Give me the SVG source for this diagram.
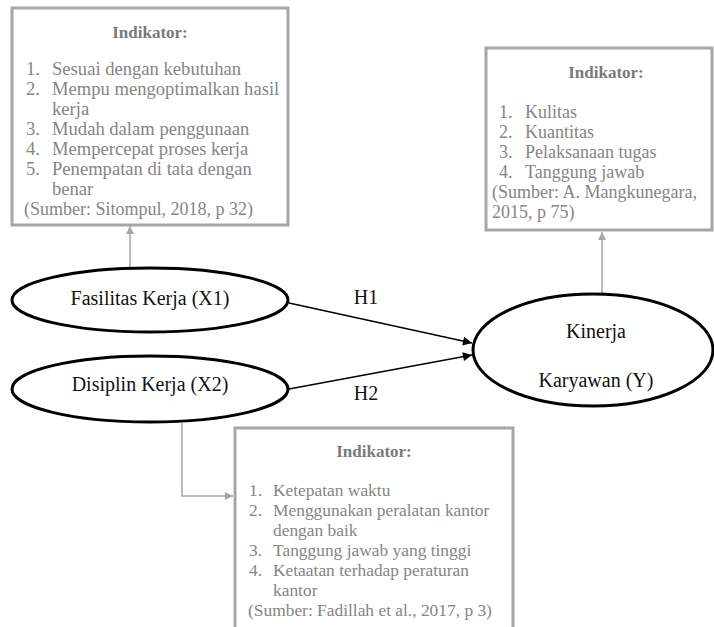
<svg xmlns="http://www.w3.org/2000/svg" width="714" height="627" viewBox="0 0 714 627">
<defs>
<style>
.box{fill:#fff;stroke:#a6a6a6;stroke-width:3}
.bt{font-family:"Liberation Serif","Times New Roman",serif;font-size:18px;fill:#858585}
.b1{font-size:18.6px}
.b3{font-size:17.4px}
.hd{font-family:"Liberation Serif","Times New Roman",serif;font-size:17px;font-weight:bold;fill:#7a7a7a;text-anchor:middle}
.el{fill:#fff;stroke:#000;stroke-width:3}
.lt{font-family:"Liberation Serif","Times New Roman",serif;font-size:20px;fill:#111;text-anchor:middle}
.gl{fill:none;stroke:#a6a6a6;stroke-width:1.5}
.bl{fill:none;stroke:#000;stroke-width:1.3}
</style>
<marker id="ga" viewBox="0 0 10 10" refX="10" refY="5" markerWidth="8" markerHeight="8" markerUnits="userSpaceOnUse" orient="auto"><path d="M0,0 L10,5 L0,10 z" fill="#a6a6a6"/></marker>
<marker id="ba" viewBox="0 0 10 10" refX="10" refY="5" markerWidth="10" markerHeight="9" markerUnits="userSpaceOnUse" orient="auto"><path d="M0,0 L10,5 L0,10 z" fill="#000"/></marker>
</defs>
<rect width="714" height="627" fill="#fff"/>

<g id="connectors">
<line class="gl" x1="130" y1="269" x2="130" y2="226" marker-end="url(#ga)"/>
<line class="gl" x1="602" y1="294" x2="602" y2="232" marker-end="url(#ga)"/>
<polyline class="gl" points="182,423 182,496 233,496" marker-end="url(#ga)"/>
<line class="bl" x1="289" y1="303" x2="472" y2="343" marker-end="url(#ba)"/>
<line class="bl" x1="289" y1="389" x2="472" y2="355" marker-end="url(#ba)"/>
<text class="lt" x="366" y="304">H1</text>
<text class="lt" x="366" y="400">H2</text>
</g>

<g id="box1">
<rect class="box" x="12" y="8" width="276" height="217"/>
<text class="hd" x="150" y="38">Indikator:</text>
<text class="bt b1" x="26" y="75">1.</text><text class="bt b1" x="52" y="75">Sesuai dengan kebutuhan</text>
<text class="bt b1" x="26" y="95">2.</text><text class="bt b1" x="52" y="95">Mempu mengoptimalkan hasil</text>
<text class="bt b1" x="52" y="115">kerja</text>
<text class="bt b1" x="26" y="135">3.</text><text class="bt b1" x="52" y="135">Mudah dalam penggunaan</text>
<text class="bt b1" x="26" y="155">4.</text><text class="bt b1" x="52" y="155">Mempercepat proses kerja</text>
<text class="bt b1" x="26" y="175">5.</text><text class="bt b1" x="52" y="175">Penempatan di tata dengan</text>
<text class="bt b1" x="52" y="195">benar</text>
<text class="bt" x="24" y="215">(Sumber: Sitompul, 2018, p 32)</text>
</g>

<g id="box2">
<rect class="box" x="486" y="48" width="226" height="182"/>
<text class="hd" x="606" y="78">Indikator:</text>
<text class="bt" x="499" y="118">1.</text><text class="bt" x="525" y="118">Kulitas</text>
<text class="bt" x="499" y="138">2.</text><text class="bt" x="525" y="138">Kuantitas</text>
<text class="bt" x="499" y="158">3.</text><text class="bt" x="525" y="158">Pelaksanaan tugas</text>
<text class="bt" x="499" y="178">4.</text><text class="bt" x="525" y="178">Tanggung jawab</text>
<text class="bt" x="492" y="198">(Sumber: A. Mangkunegara,</text>
<text class="bt" x="492" y="218">2015, p 75)</text>
</g>

<g id="box3">
<rect class="box" x="235" y="428" width="278" height="215"/>
<text class="hd" x="374" y="457">Indikator:</text>
<text class="bt b3" x="249" y="496">1.</text><text class="bt b3" x="273" y="496">Ketepatan waktu</text>
<text class="bt b3" x="249" y="516">2.</text><text class="bt b3" x="273" y="516">Menggunakan peralatan kantor</text>
<text class="bt b3" x="273" y="536">dengan baik</text>
<text class="bt b3" x="249" y="556">3.</text><text class="bt b3" x="273" y="556">Tanggung jawab yang tinggi</text>
<text class="bt b3" x="249" y="576">4.</text><text class="bt b3" x="273" y="576">Ketaatan terhadap peraturan</text>
<text class="bt b3" x="273" y="596">kantor</text>
<text class="bt b3" x="248" y="616">(Sumber: Fadillah et al., 2017, p 3)</text>
</g>

<g id="fasilitas">
<ellipse class="el" cx="150" cy="300" rx="138" ry="32"/>
<text class="lt" x="150" y="305">Fasilitas Kerja (X1)</text>
</g>

<g id="disiplin">
<ellipse class="el" cx="150" cy="389" rx="138" ry="33"/>
<text class="lt" x="150" y="391">Disiplin Kerja (X2)</text>
</g>

<g id="kinerja">
<ellipse class="el" cx="593" cy="350" rx="120" ry="56"/>
<text class="lt" x="596" y="338">Kinerja</text>
<text class="lt" x="596" y="387">Karyawan (Y)</text>
</g>
</svg>
